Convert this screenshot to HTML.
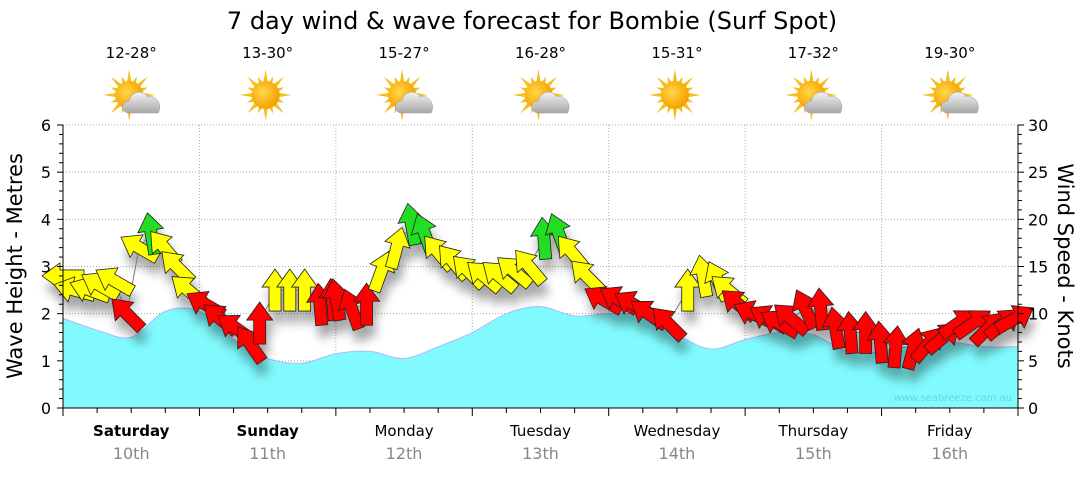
<!DOCTYPE html>
<html><head><meta charset="utf-8"><style>
body{margin:0;background:#fff;width:1080px;height:475px;overflow:hidden;font-family:"DejaVu Sans","Liberation Sans",sans-serif}
svg text{font-family:"DejaVu Sans","Liberation Sans",sans-serif}
</style></head><body>
<svg id="chart" width="1080" height="475" viewBox="0 0 1080 475" xmlns="http://www.w3.org/2000/svg">
<defs>
<radialGradient id="sunG" cx="0.4" cy="0.4" r="0.6"><stop offset="0" stop-color="#ffd84a"/><stop offset="1" stop-color="#f5a000"/></radialGradient>
<linearGradient id="cloudG" x1="0" y1="0" x2="0" y2="1"><stop offset="0" stop-color="#f2f2f2"/><stop offset="1" stop-color="#a8a8a8"/></linearGradient>
<filter id="sh" x="-50%" y="-50%" width="200%" height="200%"><feGaussianBlur stdDeviation="5"/></filter>
</defs>
<text x="532" y="29" text-anchor="middle" font-size="24" fill="#000">7 day wind &amp; wave forecast for Bombie (Surf Spot)</text>
<g id="grid"></g>
<g id="wave"></g>
<g id="shadow" filter="url(#sh)" opacity="0.35"></g>
<g id="wind"></g>
<g id="axes"></g>
<g id="icons"></g>
<text x="1012" y="401" text-anchor="end" font-size="10" fill="#5fd8e0">www.seabreeze.com.au</text>
<text transform="translate(22,266) rotate(-90)" text-anchor="middle" font-size="21">Wave Height - Metres</text>
<text transform="translate(1058,266) rotate(90)" text-anchor="middle" font-size="21">Wind Speed - Knots</text>
</svg>
<script>
const days=["Saturday","Sunday","Monday","Tuesday","Wednesday","Thursday","Friday"];
const dates=["10th","11th","12th","13th","14th","15th","16th"];
const temps=["12-28°","13-30°","15-27°","16-28°","15-31°","17-32°","19-30°"];
const icons=["cloud","sun","cloud","cloud","sun","cloud","cloud"];
const waveHours=[0,6,12,18,24,30,36,42,48,54,60,66,72,78,84,90,96,102,108,114,120,126,132,138,144,150,156,162,168];
const waveValues=[1.9,1.65,1.5,2.05,2.05,1.45,1.05,0.95,1.15,1.2,1.05,1.3,1.6,2.0,2.15,1.95,2.0,1.95,1.55,1.25,1.45,1.6,1.55,1.2,1.2,1.35,1.4,1.3,1.3];
const windHours=[0,2,4.7,6.5,9,11.2,13.4,15.5,17.8,20,22,25,27.6,30.3,32.9,34.6,37.3,39.9,42.5,45.2,47.4,48.1,50.8,53.4,56,58.7,61.3,63.6,66,68.6,71.3,74,76.7,79.3,82,84.6,87.2,89.5,92.1,95,97.7,100.3,103,106.4,109.9,112.6,115.2,117,118.8,121.4,124.1,126,128,130.6,133.3,135.9,138.5,141.2,143.8,146.5,149.6,152.2,154.9,157.5,160.1,162.8,165.4,167.5];
const windSpeed=[14,12.5,12.5,13,13.5,10,17,18.5,17,15,12.5,11,9.5,8.5,6.8,9,12.5,12.5,12.5,11,11.5,11.5,10.5,11,14.5,17,19.5,18.5,16.5,15.5,14.5,14,14,14.5,15,18,18.5,16.5,14,11.5,11.5,11,10,9,12.5,14,13.5,12.5,11,10,9.5,9,9.5,10.5,10.5,8.5,8,8,7,6.5,6.3,6.8,7.5,9,9,8.5,9,9.5];
const windDir=[180,165,160,150,150,135,150,100,130,135,140,150,140,145,125,90,90,90,90,95,95,100,110,90,70,75,100,110,130,130,135,140,140,140,130,95,110,130,135,150,150,150,145,135,90,100,115,140,140,155,150,150,140,115,95,100,95,90,95,85,75,50,40,35,35,45,40,30];
const X0=63,X1=1018,Y0=408,Y6=125;
const xH=h=>X0+h*(X1-X0)/168;
const yW=v=>Y0-v*(Y0-Y6)/6;
const yK=k=>Y0-k*(Y0-Y6)/30;
const NS="http://www.w3.org/2000/svg";
function mk(tag,attrs,parent,txt){const e=document.createElementNS(NS,tag);for(const k in attrs)e.setAttribute(k,attrs[k]);if(txt!==undefined)e.textContent=txt;parent.appendChild(e);return e;}
const grid=document.getElementById('grid'),axes=document.getElementById('axes');
for(let v=1;v<=6;v++){const l=mk('line',{x1:X0,x2:X1,y1:yW(v),y2:yW(v),stroke:'#aaa','stroke-dasharray':'1,2'},grid);

}
for(let d=1;d<7;d++){const l=mk('line',{x1:xH(d*24),x2:xH(d*24),y1:Y6,y2:Y0,stroke:'#aaa','stroke-dasharray':'1,2'},grid);

}
// wave area (Catmull-Rom)
const wg=document.getElementById('wave');
let pts=[];
for(let i=0;i<waveHours.length;i++)pts.push([xH(waveHours[i]),yW(waveValues[i])]);
let d='M'+X0+','+Y0+' L'+pts[0][0]+','+pts[0][1];
for(let i=1;i<pts.length;i++){
 const p0=pts[Math.max(0,i-2)],p1=pts[i-1],p2=pts[i],p3=pts[Math.min(pts.length-1,i+1)];
 const c1=[p1[0]+(p2[0]-p0[0])/6,p1[1]+(p2[1]-p0[1])/6],c2=[p2[0]-(p3[0]-p1[0])/6,p2[1]-(p3[1]-p1[1])/6];
 d+=` C${c1[0]},${c1[1]} ${c2[0]},${c2[1]} ${p2[0]},${p2[1]}`;}
d+=` L${X1},${Y0} Z`;
const wa=mk('path',{d:d,fill:'#80fafd',stroke:'#b0b8ff','stroke-width':1},wg);


// wind arrows
const sg=document.getElementById('shadow'),wnd=document.getElementById('wind');
let lp='';windHours.forEach((h,i)=>{lp+=(i?'L':'M')+xH(h)+','+yK(windSpeed[i]);});
const ln=mk('path',{d:lp,fill:'none',stroke:'#777','stroke-width':1},wnd);


const arrowPts="-21,-6 3,-6 3,-13 21,0 3,13 3,6 -21,6";
windHours.forEach((h,i)=>{
 const x=xH(h),y=yK(windSpeed[i]),s=windSpeed[i];
 const col=s>=18?'#22dd22':(s>=12?'#ffff00':'#ff0000');
 const tr=`translate(${x},${y}) rotate(${-windDir[i]})`;
 mk('polygon',{points:arrowPts,transform:`translate(${x+3},${y+12}) rotate(${-windDir[i]})`,fill:'#000'},sg);
 const a=mk('polygon',{points:arrowPts,transform:tr,fill:col,stroke:'#222','stroke-width':0.8},wnd);
 
 
});
// axes
mk('line',{x1:X0,x2:X0,y1:Y6,y2:Y0,stroke:'#000'},axes);
mk('line',{x1:X1,x2:X1,y1:Y6,y2:Y0,stroke:'#000'},axes);
mk('line',{x1:X0,x2:X1,y1:Y0,y2:Y0,stroke:'#000'},axes);
for(let i=0;i<=30;i++){const v=i/5,y=yW(v),maj=i%5==0;mk('line',{x1:X0-(maj?6:4),x2:X0,y1:y,y2:y,stroke:'#000'},axes);
 if(maj){const t=mk('text',{x:X0-12,y:y+6,'text-anchor':'end','font-size':16},axes,v);}}
for(let k=0;k<=30;k+=1){const y=yK(k),maj=k%5==0;mk('line',{x1:X1,x2:X1+(maj?6:4),y1:y,y2:y,stroke:'#000'},axes);
 if(maj){const t=mk('text',{x:X1+10,y:y+6,'font-size':16},axes,k);}}
for(let h=0;h<=168;h+=6){const x=xH(h);mk('line',{x1:x,x2:x,y1:Y0,y2:Y0+(h%24==0?8:5),stroke:'#000'},axes);}
const ic=document.getElementById('icons');
days.forEach((dn,i)=>{
 const cx=xH(i*24+12);
 const t=mk('text',{x:cx,y:436,'text-anchor':'middle','font-size':15,'font-weight':i<2?'bold':'normal'},axes,dn);
 
 
 const t2=mk('text',{x:cx,y:459,'text-anchor':'middle','font-size':16,fill:'#888'},axes,dates[i]);
 
 
 const t3=mk('text',{x:cx,y:58,'text-anchor':'middle','font-size':15},ic,temps[i]);
 
 
 const g=mk('g',{transform:`translate(${cx-2},95)`},ic);
 
 
 for(let r=0;r<16;r++){const ang=r*22.5*Math.PI/180,L=r%2?20:26;mk('polygon',{points:`${Math.cos(ang)*L},${Math.sin(ang)*L} ${Math.cos(ang+0.2)*12},${Math.sin(ang+0.2)*12} ${Math.cos(ang-0.2)*12},${Math.sin(ang-0.2)*12}`,fill:'#f3c020'},g);}
 mk('circle',{cx:0,cy:0,r:14,fill:'url(#sunG)'},g);
 if(icons[i]=='cloud'){mk('path',{d:'M0,18 C-9,18 -9,6 0,6 C1,-4 15,-6 18,2 C26,-1 34,9 29,18 Z',fill:'url(#cloudG)',stroke:'#999','stroke-width':0.5},g);}
});
</script>
</body></html>
